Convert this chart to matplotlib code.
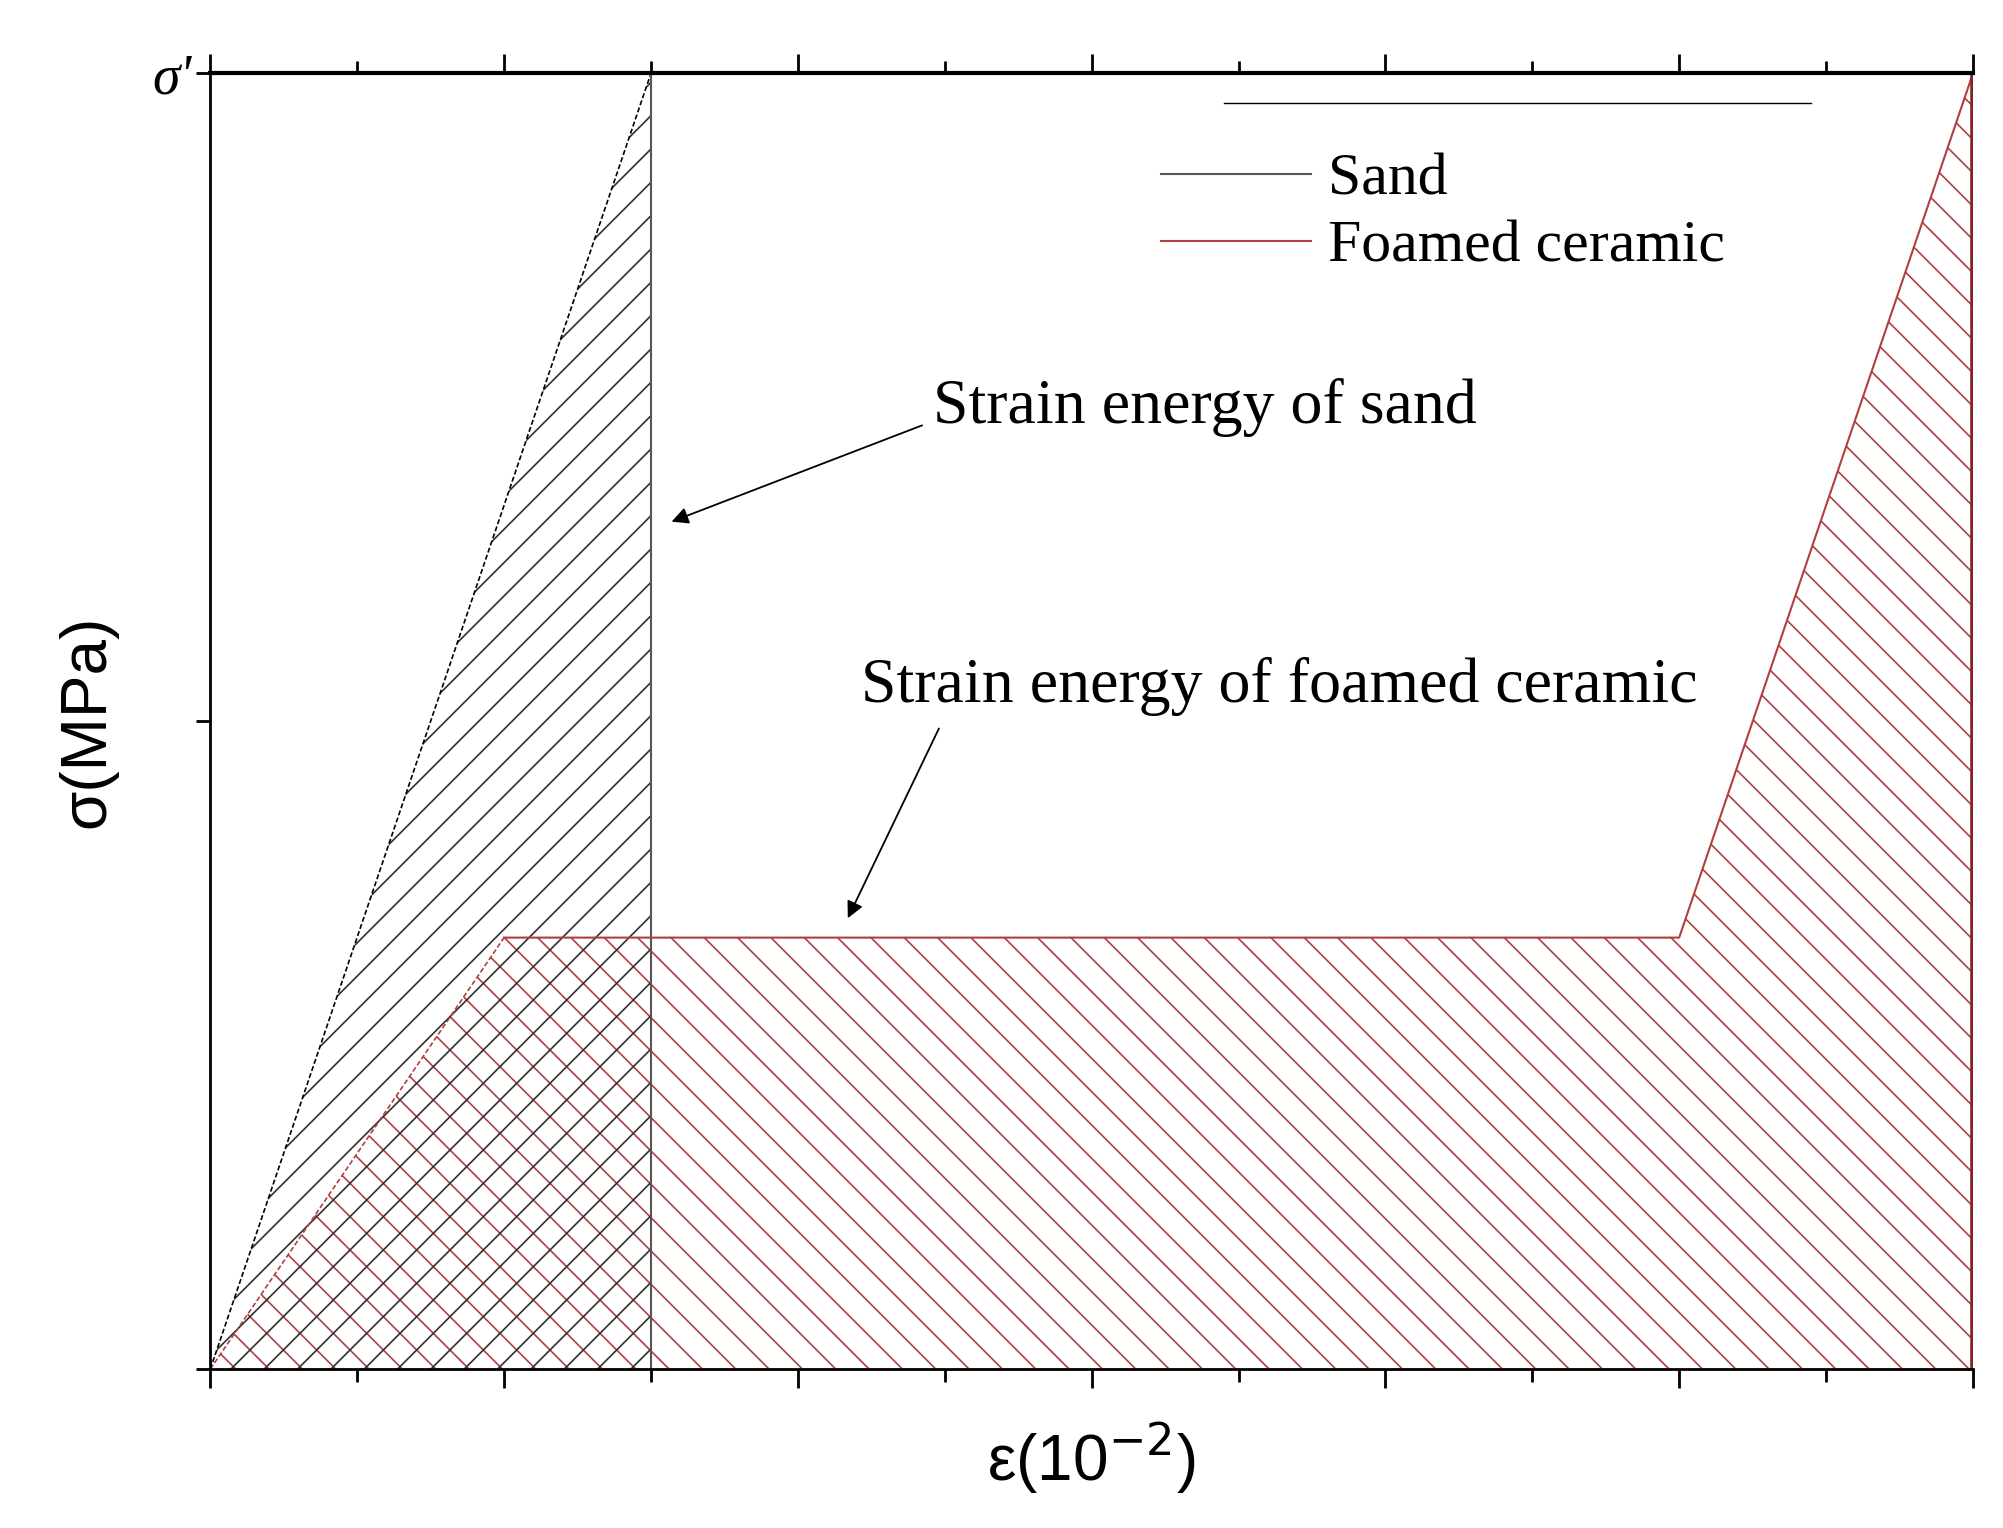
import matplotlib
matplotlib.use("Agg")
import matplotlib.pyplot as plt
import matplotlib as mpl

sand_x = [0, 1.5, 1.5]
sand_y = [0, 1.0, 0]
foam_x = [0, 1.0, 5.0, 6.0, 6.0]
foam_y = [0, 0.333, 0.333, 1.0, 0]

mpl.rcParams['hatch.linewidth'] = 1.2
fig = plt.figure(figsize=(20.03, 15.28), dpi=100)
ax = fig.add_axes([0.105, 0.104, 0.880, 0.848])
red = '#b04040'

ax.fill(foam_x, foam_y, facecolor='none', edgecolor=red, hatch='\\', linewidth=0)
ax.fill(sand_x, sand_y, facecolor='none', edgecolor='#303030', hatch='/', linewidth=0)
ax.plot(sand_x[:2], sand_y[:2], color='black', lw=1.2, ls=(0, (3, 1.5)))
ax.plot([1.5, 1.5], [0, 1], color='#555555', lw=1.5, label='Sand')
ax.plot(foam_x[:2], foam_y[:2], color=red, lw=1.2, ls=(0, (3, 1.5)))
ax.plot(foam_x[1:4], foam_y[1:4], color=red, lw=1.5, label='Foamed ceramic')
ax.plot([6, 6], [0, 1], color='#8b2020', lw=4)

ax.set_xlim(0, 6)
ax.set_ylim(0, 1)
ax.set_xticks([0, 1, 2, 3, 4, 5, 6])
ax.set_xticks([0.5, 1.5, 2.5, 3.5, 4.5, 5.5], minor=True)
ax.set_xticklabels([])
ax.set_yticks([0, 0.5, 1.0])
ax.set_yticklabels(['', '', "σ'"], fontsize=40, family='Liberation Serif', style='italic')
ax.tick_params(axis='x', which='both', direction='out', top=True, bottom=True, width=2, length=14)
ax.tick_params(axis='x', which='minor', length=9)
ax.tick_params(axis='y', direction='out', width=2, length=10)
ax.spines['top'].set_linewidth(3)
ax.spines['bottom'].set_linewidth(2)
ax.spines['left'].set_linewidth(2)
ax.spines['right'].set_visible(False)

ax.set_xlabel('ε(10$^{-2}$)', fontsize=46, family='Liberation Sans', labelpad=20)
ax.set_ylabel('σ(MPa)', fontsize=46, family='Liberation Sans', labelpad=25)

leg = ax.legend(loc='upper right', bbox_to_anchor=(0.89, 0.98), frameon=False,
                prop={'family': 'Liberation Serif', 'size': 43}, handlelength=2.5, handletextpad=0.3,
                labelspacing=0.2)
ax.plot([3.45, 5.45], [0.977, 0.977], color='black', lw=1)

ax.annotate('Strain energy of sand', xy=(1.57, 0.654), xytext=(2.46, 0.742),
            fontsize=46, family='Liberation Serif', va='center', ha='left',
            arrowprops=dict(arrowstyle='-|>', color='black', lw=1.3, mutation_scale=25, shrinkA=0, shrinkB=0,
                            relpos=(-0.02, 0.2)))
ax.annotate('Strain energy of foamed ceramic', xy=(2.17, 0.348), xytext=(3.64, 0.527),
            fontsize=46, family='Liberation Serif', va='center', ha='center',
            arrowprops=dict(arrowstyle='-|>', color='black', lw=1.3, mutation_scale=25, shrinkA=8, shrinkB=0,
                            relpos=(0.1, 0)))
fig.savefig('out.png', dpi=100)
